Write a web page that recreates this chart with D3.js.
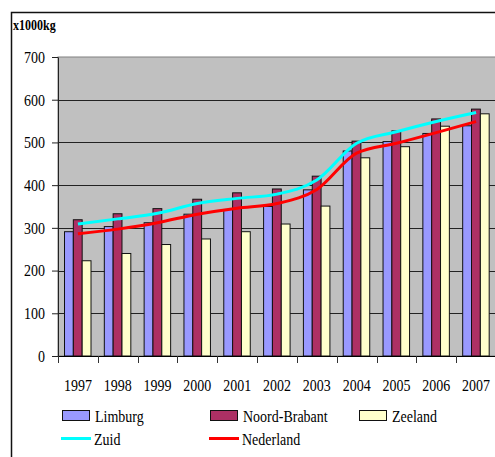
<!DOCTYPE html>
<html>
<head>
<meta charset="utf-8">
<script src="https://cdn.jsdelivr.net/npm/d3@7"></script>
<style>
  body { margin: 0; background: #fff; }
</style>
</head>
<body>
<div id="chart"></div>
<script>
// data
var years = ["1997","1998","1999","2000","2001","2002","2003","2004","2005","2006","2007"];
var barSeries = ["Limburg", "Noord-Brabant", "Zeeland"];
var limburg      = [291, 303, 312, 332, 343, 350, 389, 480, 502, 521, 539];
var noordBrabant = [319, 333, 345, 367, 382, 391, 421, 503, 527, 555, 578];
var zeeland      = [223, 240, 261, 274, 291, 309, 351, 464, 490, 538, 567];
var zuid         = [309, 321, 334, 357, 369, 379, 412, 498, 525, 549, 570];
var nederland    = [286, 297, 312, 332, 346, 357, 390, 475, 498, 523, 549];
var yTicks = [0, 100, 200, 300, 400, 500, 600, 700];

var barValues = [limburg, noordBrabant, zeeland];
var barColors = ["#9999FF", "#AD3064", "#FFFFCC"];

var W = 495, H = 457;
var plot = {left: 58, top: 57, right: 496, bottom: 356};
var stretch = "scale(1,1.2)"; // text in the picture is taller than wide
var serif = "'Liberation Serif', 'DejaVu Serif', serif";

var svg = d3.select("#chart").append("svg")
    .attr("width", W)
    .attr("height", H)
    .attr("font-family", serif);

// outer frame (runs off the right and bottom)
svg.append("rect")
    .attr("x", 11.5).attr("y", 12.5)
    .attr("width", 500).attr("height", 500)
    .attr("fill", "#fff")
    .attr("stroke", "#111")
    .attr("stroke-width", 1.5);

var x0 = d3.scaleBand().domain(years).range([plot.left, plot.right]);
var x1 = d3.scaleBand().domain(barSeries).range([6.5, 33]);
var y = d3.scaleLinear().domain([0, 700]).range([plot.bottom, plot.top]);

// plot background
svg.append("rect")
    .attr("x", plot.left).attr("y", plot.top)
    .attr("width", plot.right - plot.left)
    .attr("height", plot.bottom - plot.top)
    .attr("fill", "#C0C0C0")
    .attr("stroke", "#808080");

// gridlines
svg.append("g")
  .selectAll("line")
  .data(yTicks.filter(function(d) { return d > 0 && d < 700; }))
  .enter().append("line")
    .attr("x1", plot.left).attr("x2", plot.right)
    .attr("y1", function(d) { return Math.round(y(d)) + 0.5; })
    .attr("y2", function(d) { return Math.round(y(d)) + 0.5; })
    .attr("stroke", "#222")
    .attr("stroke-width", 1);

// bars
var groups = svg.append("g")
  .selectAll("g")
  .data(years)
  .enter().append("g")
    .attr("transform", function(d) { return "translate(" + x0(d) + ",0)"; });

groups.selectAll("rect")
  .data(function(d, i) {
    return barSeries.map(function(s, j) { return {series: s, value: barValues[j][i], idx: j}; });
  })
  .enter().append("rect")
    .attr("x", function(d) { return x1(d.series); })
    .attr("y", function(d) { return y(d.value); })
    .attr("width", x1.bandwidth())
    .attr("height", function(d) { return y(0) - y(d.value); })
    .attr("fill", function(d) { return barColors[d.idx]; })
    .attr("stroke", "#111")
    .attr("stroke-width", 1);

// lines
var line = d3.line()
    .x(function(d, i) { return x0(years[i]) + x0.bandwidth() / 2; })
    .y(function(d) { return y(d); })
    .curve(d3.curveMonotoneX);

svg.append("path")
    .datum(zuid)
    .attr("d", line)
    .attr("fill", "none")
    .attr("stroke", "#00FFFF")
    .attr("stroke-width", 3);

svg.append("path")
    .datum(nederland)
    .attr("d", line)
    .attr("fill", "none")
    .attr("stroke", "#FF0000")
    .attr("stroke-width", 3);

// y axis
var yAxis = svg.append("g")
    .attr("transform", "translate(" + plot.left + ",0)")
    .call(d3.axisLeft(y).tickValues(yTicks).tickSize(6).tickPadding(7).tickSizeOuter(0))
    .attr("font-family", serif)
    .attr("font-size", 14);
yAxis.select(".domain").attr("stroke", "#222");
yAxis.selectAll(".tick line").attr("stroke", "#222");
yAxis.selectAll(".tick text")
    .attr("transform", stretch);

// x axis, ticks at category boundaries
var xAxis = svg.append("g")
    .attr("transform", "translate(0," + plot.bottom + ")");
xAxis.append("line")
    .attr("x1", plot.left).attr("x2", plot.right)
    .attr("y1", 0.5).attr("y2", 0.5)
    .attr("stroke", "#000");
xAxis.selectAll("line.tk")
  .data(years.concat(["end"]))
  .enter().append("line")
    .attr("class", "tk")
    .attr("x1", function(d, i) { return Math.round(plot.left + i * x0.bandwidth()) + 0.5; })
    .attr("x2", function(d, i) { return Math.round(plot.left + i * x0.bandwidth()) + 0.5; })
    .attr("y1", 0).attr("y2", 7)
    .attr("stroke", "#333");
xAxis.selectAll("text")
  .data(years)
  .enter().append("text")
    .attr("text-anchor", "middle")
    .attr("font-size", 14)
    .attr("transform", function(d) {
      return "translate(" + (x0(d) + x0.bandwidth() / 2) + ",35) " + stretch;
    })
    .text(function(d) { return d; });

// unit label
svg.append("text")
    .attr("transform", "translate(13,30) " + stretch)
    .attr("font-size", 12)
    .attr("font-weight", "bold")
    .text("x1000kg");

// legend
var legendItems = [
  {name: "Limburg", type: "bar", color: barColors[0], x: 62, y: 410},
  {name: "Noord-Brabant", type: "bar", color: barColors[1], x: 210, y: 410},
  {name: "Zeeland", type: "bar", color: barColors[2], x: 359, y: 410},
  {name: "Zuid", type: "line", color: "#00FFFF", x: 61, y: 433},
  {name: "Nederland", type: "line", color: "#FF0000", x: 209, y: 433}
];

var legend = svg.append("g");
legendItems.forEach(function(d) {
  if (d.type === "bar") {
    legend.append("rect")
      .attr("x", d.x + 0.5).attr("y", d.y + 0.5)
      .attr("width", 27).attr("height", 10)
      .attr("fill", d.color)
      .attr("stroke", "#111");
  } else {
    legend.append("line")
      .attr("x1", d.x).attr("x2", d.x + 30)
      .attr("y1", d.y + 5.5).attr("y2", d.y + 5.5)
      .attr("stroke", d.color)
      .attr("stroke-width", 3);
  }
  legend.append("text")
    .attr("transform", "translate(" + (d.x + 33) + "," + (d.y + 12) + ") " + stretch)
    .attr("font-size", 14)
    .text(d.name);
});
</script>
</body>
</html>
